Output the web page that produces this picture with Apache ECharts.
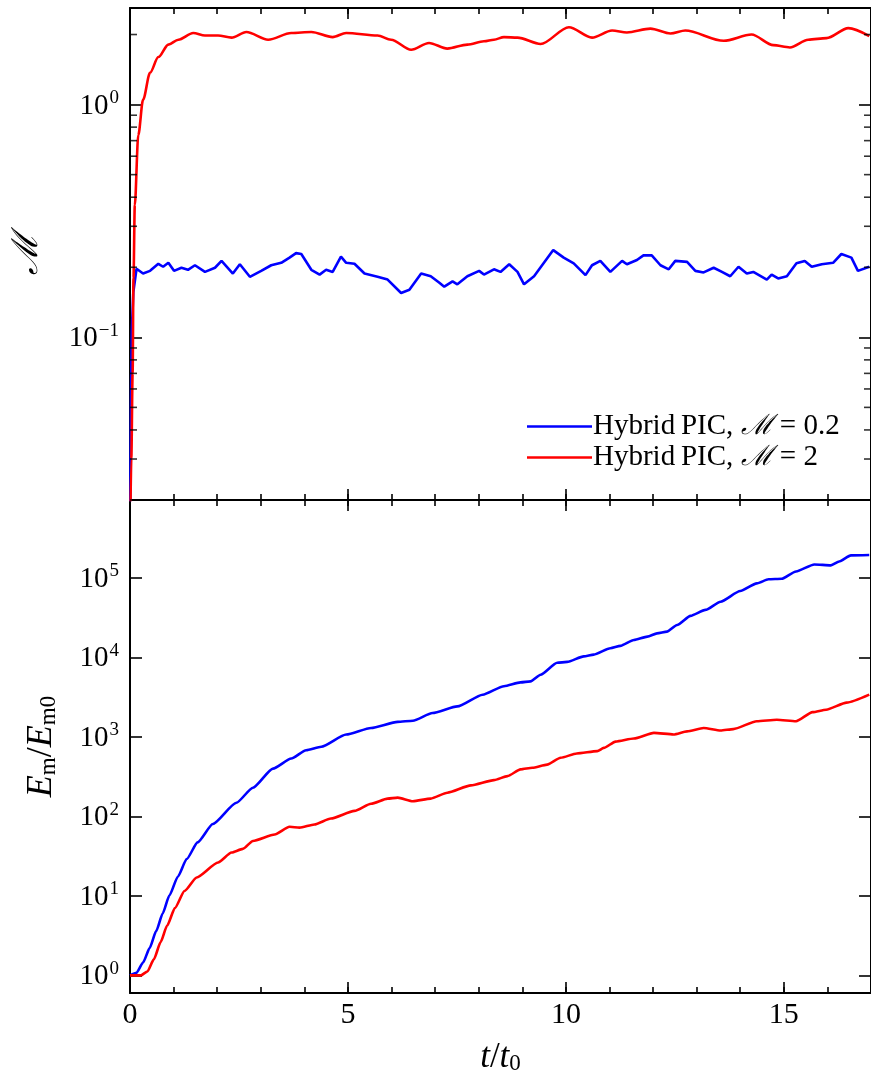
<!DOCTYPE html>
<html>
<head>
<meta charset="utf-8">
<script src="https://cdn.jsdelivr.net/npm/echarts@6/dist/echarts.min.js"></script>
<style>
html,body{margin:0;padding:0;background:#fff;}
#chart{width:871px;height:1084px;}
</style>
</head>
<body>
<div id="chart"></div>
<script>
// ---------- DATA ----------
const SERIES_NAMES = ['Hybrid PIC, M = 0.2', 'Hybrid PIC, M = 2'];

// Top panel: Mach number M vs t/t0
const tTopBlue = [0, 0.02, 0.04, 0.076, 0.15, 0.30, 0.46, 0.65, 0.76, 0.88, 1.01, 1.18, 1.33, 1.49, 1.72, 1.95, 2.10, 2.36, 2.52, 2.75, 3.01, 3.24, 3.47, 3.66, 3.81, 3.93, 4.16, 4.35, 4.50, 4.65, 4.84, 4.96, 5.15, 5.38, 5.68, 5.91, 6.22, 6.41, 6.68, 6.90, 7.09, 7.21, 7.40, 7.51, 7.74, 8.01, 8.12, 8.35, 8.50, 8.70, 8.89, 9.04, 9.27, 9.71, 9.95, 10.18, 10.45, 10.60, 10.79, 11.02, 11.29, 11.40, 11.63, 11.78, 11.97, 12.17, 12.36, 12.51, 12.78, 12.97, 13.16, 13.39, 13.58, 13.77, 13.96, 14.15, 14.30, 14.61, 14.72, 14.87, 15.07, 15.29, 15.48, 15.64, 15.87, 16.13, 16.32, 16.55, 16.70, 16.96];
const mTopBlue = [0.012, 0.05, 0.105, 0.156, 0.197, 0.188, 0.193, 0.207, 0.201, 0.209, 0.193, 0.199, 0.195, 0.204, 0.191, 0.199, 0.213, 0.188, 0.206, 0.182, 0.193, 0.204, 0.209, 0.220, 0.230, 0.228, 0.195, 0.186, 0.195, 0.191, 0.222, 0.209, 0.207, 0.188, 0.182, 0.177, 0.155, 0.160, 0.188, 0.183, 0.172, 0.165, 0.174, 0.169, 0.183, 0.193, 0.186, 0.196, 0.191, 0.206, 0.191, 0.169, 0.183, 0.237, 0.220, 0.208, 0.185, 0.204, 0.213, 0.191, 0.213, 0.206, 0.215, 0.225, 0.225, 0.204, 0.196, 0.213, 0.211, 0.193, 0.190, 0.199, 0.191, 0.183, 0.201, 0.188, 0.191, 0.177, 0.186, 0.179, 0.183, 0.208, 0.213, 0.201, 0.206, 0.209, 0.228, 0.220, 0.193, 0.201];

const tTopRed = [0, 0.03, 0.06, 0.08, 0.11, 0.19, 0.30, 0.46, 0.65, 0.88, 1.11, 1.45, 1.72, 2.02, 2.33, 2.67, 3.17, 3.70, 4.16, 4.65, 4.96, 5.68, 5.99, 6.45, 6.86, 7.28, 7.74, 8.12, 8.35, 8.58, 8.89, 9.42, 10.07, 10.60, 11.06, 11.40, 11.94, 12.40, 12.74, 13.62, 14.26, 14.76, 15.14, 15.56, 15.98, 16.48, 16.96];
const mTopRed = [0.012, 0.03, 0.07, 0.18, 0.37, 0.74, 1.05, 1.37, 1.60, 1.81, 1.90, 2.03, 1.98, 1.98, 1.94, 2.05, 1.90, 2.03, 2.05, 1.95, 2.03, 1.98, 1.90, 1.72, 1.84, 1.74, 1.81, 1.87, 1.90, 1.95, 1.94, 1.82, 2.15, 1.94, 2.08, 2.04, 2.12, 2.02, 2.08, 1.88, 2.00, 1.80, 1.76, 1.90, 1.93, 2.13, 1.97];

// Bottom panel: Em/Em0 vs t/t0
const tBotBlue = [0, 0.15, 0.3, 0.45, 0.6, 0.75, 0.9, 1.1, 1.3, 1.55, 1.9, 2.44, 2.82, 3.28, 3.70, 4.04, 4.39, 4.96, 5.53, 6.14, 6.49, 6.94, 7.51, 8.09, 8.58, 8.96, 9.19, 9.42, 9.80, 10.03, 10.41, 10.64, 11.02, 11.25, 11.56, 11.87, 12.09, 12.32, 12.55, 12.86, 13.20, 13.55, 14.00, 14.38, 14.65, 14.95, 15.28, 15.70, 16.08, 16.27, 16.54, 16.96];
const eBotBlue = [1.0, 1.08, 1.45, 2.2, 3.6, 6.0, 10.0, 17.5, 29, 47, 80, 148, 229, 398, 533, 677, 748, 1067, 1290, 1540, 1590, 1990, 2410, 3380, 4330, 4830, 4970, 6030, 8520, 8750, 10260, 10800, 13000, 13900, 16500, 18200, 20000, 21000, 25500, 33200, 39400, 50000, 68000, 85000, 95600, 97000, 120000, 147000, 143000, 160000, 191000, 193000];

const tBotRed = [0, 0.25, 0.4, 0.55, 0.7, 0.85, 1.03, 1.25, 1.53, 2.02, 2.33, 2.59, 2.82, 3.32, 3.66, 3.89, 4.23, 4.61, 5.15, 5.53, 5.91, 6.14, 6.49, 6.90, 7.28, 7.82, 8.35, 8.66, 8.96, 9.23, 9.57, 9.88, 10.25, 10.72, 10.87, 11.14, 11.56, 12.02, 12.47, 12.78, 13.16, 13.55, 13.84, 14.38, 14.84, 15.28, 15.66, 15.97, 16.44, 16.96];
const eBotRed = [1.0, 1.0, 1.12, 1.6, 2.6, 4.2, 7.0, 11.5, 17, 26.2, 35, 39, 49, 59, 74, 72, 79, 94, 117, 144, 167, 172, 155, 167, 198, 245, 285, 320, 389, 408, 447, 545, 617, 660, 725, 870, 950, 1120, 1070, 1170, 1290, 1200, 1250, 1570, 1640, 1570, 2040, 2190, 2690, 3390];

// Axis ranges / tick values
const X_MIN = 0, X_MAX = 17;
const TOP_Y = [0.02, 2.6];
const BOT_Y = [0.6, 9.5e5];
const TOP_MINOR_TICKS = [0.02, 0.03, 0.04, 0.05, 0.06, 0.07, 0.08, 0.09, 0.2, 0.3, 0.4, 0.5, 0.6, 0.7, 0.8, 0.9, 2];

// ---------- CHART ----------
const FONT = 'Liberation Serif';
const CAL = 'DejaVu Serif';
const BLACK = '#000';
const zip = (a, b) => a.map((x, i) => [x, b[i]]);

const supRich = {
  b: { fontFamily: FONT, fontSize: 29, color: BLACK, lineHeight: 32, verticalAlign: 'bottom' },
  s: { fontFamily: FONT, fontSize: 19, color: BLACK, lineHeight: 32, verticalAlign: 'top', padding: [0, 0, 0, 1] }
};
function powLabel(v) {
  const l = Math.log10(v);
  const e = Math.round(l);
  if (Math.abs(l - e) > 1e-6) return '';
  return '{b|10}{s|' + (e < 0 ? '\u2212' + (-e) : e) + '}';
}

function xAxisDef(grid, pos, major, labels) {
  return {
    type: 'value', gridIndex: grid, position: pos, min: X_MIN, max: X_MAX,
    interval: major ? 5 : 1,
    axisLine: { show: major, onZero: false, lineStyle: { color: BLACK, width: 2 } },
    axisTick: { show: true, inside: true, length: major ? 11 : 6, lineStyle: { color: BLACK, width: 1.6 } },
    axisLabel: {
      show: labels, margin: 7, fontFamily: FONT, fontSize: 30, color: BLACK,
      showMaxLabel: false,
      formatter: v => (v % 5 === 0 ? String(v) : '')
    },
    splitLine: { show: false },
    name: labels ? '{i|t}{n|/}{i|t}{sub|0}' : '',
    nameLocation: 'middle', nameGap: 44,
    nameTextStyle: {
      rich: {
        i: { fontFamily: FONT, fontStyle: 'italic', fontSize: 35, color: BLACK, verticalAlign: 'bottom', lineHeight: 38 },
        n: { fontFamily: FONT, fontSize: 35, color: BLACK, verticalAlign: 'bottom', lineHeight: 38 },
        sub: { fontFamily: FONT, fontSize: 23, color: BLACK, verticalAlign: 'bottom', lineHeight: 32 }
      }
    }
  };
}

function yAxisDef(grid, pos, range, labels, name, nameGap) {
  return {
    type: 'log', logBase: 10, gridIndex: grid, position: pos, min: range[0], max: range[1],
    axisLine: { show: true, onZero: false, lineStyle: { color: BLACK, width: 2 } },
    axisTick: { show: true, inside: true, length: 12, lineStyle: { color: BLACK, width: 1.6 } },
    axisLabel: { show: labels, margin: 11, formatter: powLabel, rich: supRich },
    splitLine: { show: false },
    minorTick: { show: false },
    name: name || '', nameLocation: 'middle', nameRotate: 90, nameGap: nameGap || 0,
    nameTextStyle: {
      fontFamily: FONT, fontSize: 32, color: BLACK,
      rich: {
        cal: { fontFamily: CAL, fontStyle: 'italic', fontSize: 36, color: BLACK },
        i: { fontFamily: FONT, fontStyle: 'italic', fontSize: 36, color: BLACK, verticalAlign: 'bottom', lineHeight: 40 },
        n: { fontFamily: FONT, fontSize: 36, color: BLACK, verticalAlign: 'bottom', lineHeight: 40 },
        sub: { fontFamily: FONT, fontSize: 23, color: BLACK, verticalAlign: 'bottom', lineHeight: 33 }
      }
    }
  };
}

function tickSeries(xIdx, yIdx, vals) {
  const data = [];
  vals.forEach(v => { data.push({ value: [X_MIN, v], symbolOffset: [3.5, 0] }); data.push({ value: [X_MAX, v], symbolOffset: [-3.5, 0] }); });
  return {
    type: 'scatter', xAxisIndex: xIdx, yAxisIndex: yIdx, data: data,
    symbol: 'rect', symbolSize: [7, 1.6], itemStyle: { color: BLACK },
    silent: true, clip: false, z: 5, animation: false, tooltip: { show: false }
  };
}

function lineSeries(name, color, xIdx, yIdx, data, smooth) {
  return {
    name: name, type: 'line', xAxisIndex: xIdx, yAxisIndex: yIdx, data: data,
    showSymbol: false, symbol: 'none', smooth: smooth, smoothMonotone: 'x',
    lineStyle: { color: color, width: 2.6 }, itemStyle: { color: color },
    clip: true, animation: false, z: 3
  };
}

const chart = echarts.init(document.getElementById('chart'), null, { renderer: 'canvas' });
chart.setOption({
  backgroundColor: '#fff',
  animation: false,
  grid: [
    { left: 130, top: 8, right: 0, height: 492, containLabel: false },
    { left: 130, top: 500, right: 0, height: 493, containLabel: false }
  ],
  legend: {
    data: SERIES_NAMES, orient: 'vertical', left: 522, top: 407,
    itemWidth: 65, itemHeight: 2.6, itemGap: 2, icon: 'rect',
    selectedMode: false,
    formatter: n => n === SERIES_NAMES[0]
      ? '{n|Hybrid\u2009PIC, }{m|\u2133}{n| = 0.2}'
      : '{n|Hybrid\u2009PIC, }{m|\u2133}{n| = 2}',
    textStyle: {
      padding: [0, 0, 0, -4],
      rich: {
        n: { fontFamily: FONT, fontSize: 29, color: BLACK, lineHeight: 30 },
        m: { fontFamily: CAL, fontStyle: 'italic', fontSize: 28, color: BLACK, lineHeight: 30 }
      }
    }
  },
  xAxis: [
    xAxisDef(0, 'bottom', true, false),
    xAxisDef(0, 'bottom', false, false),
    xAxisDef(0, 'top', true, false),
    xAxisDef(0, 'top', false, false),
    xAxisDef(1, 'bottom', true, true),
    xAxisDef(1, 'bottom', false, false),
    xAxisDef(1, 'top', true, false),
    xAxisDef(1, 'top', false, false)
  ],
  yAxis: [
    yAxisDef(0, 'left', TOP_Y, true, '{cal|\u2133}', 84),
    yAxisDef(0, 'right', TOP_Y, false),
    yAxisDef(1, 'left', BOT_Y, true, '{i|E}{sub|m}{n|/}{i|E}{sub|m0}', 70),
    yAxisDef(1, 'right', BOT_Y, false)
  ],
  series: [
    lineSeries(SERIES_NAMES[0], '#0000ff', 0, 0, zip(tTopBlue, mTopBlue), false),
    lineSeries(SERIES_NAMES[1], '#ff0000', 0, 0, zip(tTopRed, mTopRed), 0.3),
    lineSeries(SERIES_NAMES[0], '#0000ff', 4, 2, zip(tBotBlue, eBotBlue), 0.2),
    lineSeries(SERIES_NAMES[1], '#ff0000', 4, 2, zip(tBotRed, eBotRed), 0.2),
    tickSeries(0, 0, TOP_MINOR_TICKS)
  ]
});
</script>
</body>
</html>
